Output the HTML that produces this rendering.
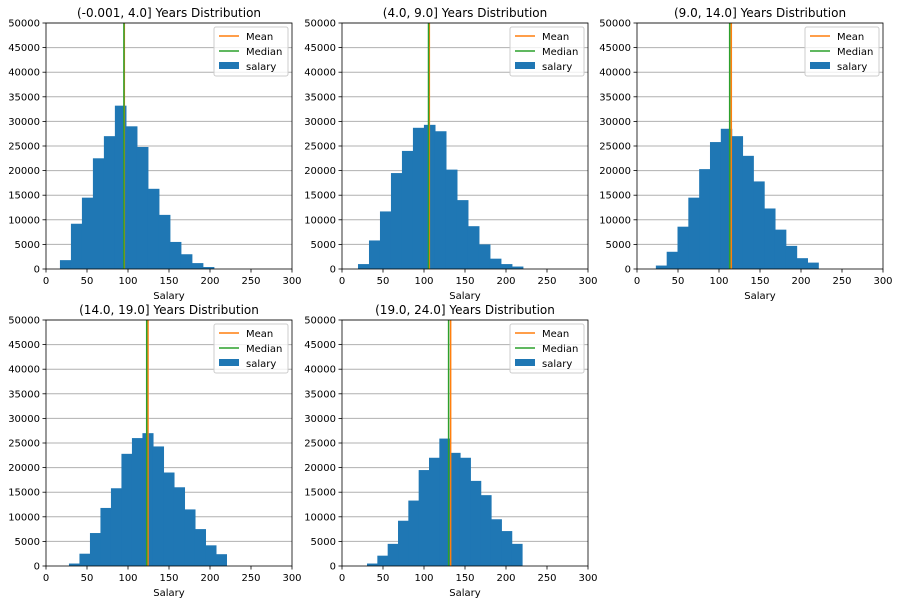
<!DOCTYPE html>
<html><head><meta charset="utf-8"><style>
body{margin:0;background:#fff;}
svg{display:block;font-family:"DejaVu Sans","Liberation Sans",sans-serif;}
</style></head><body>
<svg id="fig" width="899" height="604"></svg>
<script>
const titles = ["(-0.001, 4.0] Years Distribution","(4.0, 9.0] Years Distribution","(9.0, 14.0] Years Distribution","(14.0, 19.0] Years Distribution","(19.0, 24.0] Years Distribution"];
const binStarts = [17, 19.5, 23, 28, 30.5];
const binWidths = [13.4, 13.4, 13.2, 12.8, 12.6];
const counts1 = [1800,9200,14500,22500,27000,33200,29000,24800,16300,11000,5500,3000,1200,400,0];
const counts2 = [1000,5800,11700,19500,24000,28700,29300,28000,20200,14000,8700,5000,2100,1000,500];
const counts3 = [700,3500,8600,14500,20300,25800,28500,27000,23000,17800,12300,8000,4700,2200,1300];
const counts4 = [500,2500,6700,11800,15800,22800,26000,27000,24300,19000,16000,11500,7500,4200,2400];
const counts5 = [500,2100,4500,9200,13300,19500,22000,25900,23000,22000,17300,14400,9500,7100,4500];
const means = [95.5, 106.5, 115, 124.4, 132.5];
const medians = [95, 105.5, 113, 122.8, 130];
const yTicks = [0,5000,10000,15000,20000,25000,30000,35000,40000,45000,50000];
const xTicks = [0,50,100,150,200,250,300];
const allCounts = [counts1,counts2,counts3,counts4,counts5];
const boxes = [[46,23],[342,23],[637,23],[46,320],[342,320]];
const W = 246, H = 246;
const NS = "http://www.w3.org/2000/svg";
const fig = document.getElementById('fig');
function mk(tag, attrs, parent, text){
  const e = document.createElementNS(NS, tag);
  for (const k in attrs) e.setAttribute(k, attrs[k]);
  if (text !== undefined) e.textContent = text;
  parent.appendChild(e); return e;
}
allCounts.forEach((counts, i) => {
  const [x0, y0] = boxes[i];
  const sx = v => x0 + v / 300 * W;
  const sy = v => y0 + H - v / 50000 * H;
  const g = mk('g', {}, fig);
  
  
  yTicks.forEach(t => {
    if (t > 0) {
      const gl = mk('line', {x1:x0, x2:x0+W, y1:sy(t), y2:sy(t), stroke:'#b0b0b0', 'stroke-width':1}, g);
      
      
    }
    mk('line', {x1:x0-3.5, x2:x0, y1:sy(t), y2:sy(t), stroke:'#000', 'stroke-width':0.8}, g);
    const tl = mk('text', {x:x0-6, y:sy(t)+3.5, 'text-anchor':'end', 'font-size':10, fill:'#000'}, g, String(t));
    
    
  });
  counts.forEach((c, j) => {
    const a = binStarts[i] + j * binWidths[i];
    const b = a + binWidths[i];
    if (c <= 0) return;
    const r = mk('rect', {x:sx(a), y:sy(c), width:sx(b)-sx(a)+0.6, height:sy(0)-sy(c), fill:'#1f77b4'}, g);
    
    
  });
  const ml = mk('line', {x1:sx(means[i]), x2:sx(means[i]), y1:y0, y2:y0+H, stroke:'#ff7f0e', 'stroke-width':1.5}, g);
  
  
  const mdl = mk('line', {x1:sx(medians[i]), x2:sx(medians[i]), y1:y0, y2:y0+H, stroke:'#2ca02c', 'stroke-width':1.5}, g);
  
  
  xTicks.forEach(t => {
    mk('line', {x1:sx(t), x2:sx(t), y1:y0+H, y2:y0+H+3.5, stroke:'#000', 'stroke-width':0.8}, g);
    const tl = mk('text', {x:sx(t), y:y0+H+15, 'text-anchor':'middle', 'font-size':10, fill:'#000'}, g, String(t));
    
    
  });
  mk('rect', {x:x0, y:y0, width:W, height:H, fill:'none', stroke:'#000', 'stroke-width':0.8}, g);
  const xt = mk('text', {x:x0+W/2, y:y0+H+30, 'text-anchor':'middle', 'font-size':10}, g, 'Salary');
  
  
  const tt = mk('text', {x:x0+W/2, y:y0-6, 'text-anchor':'middle', 'font-size':12}, g, titles[i]);
  
  
  const lg = mk('g', {}, g);
  
  
  const lx = x0 + W - 78, ly = y0 + 4;
  mk('rect', {x:lx, y:ly, width:74, height:49, rx:2, fill:'#fff', 'fill-opacity':0.8, stroke:'#ccc', 'stroke-width':1}, lg);
  mk('line', {x1:lx+5, x2:lx+25, y1:ly+9, y2:ly+9, stroke:'#ff7f0e', 'stroke-width':1.5}, lg);
  const e1 = mk('text', {x:lx+32, y:ly+13, 'font-size':10}, lg, 'Mean');
  
  
  mk('line', {x1:lx+5, x2:lx+25, y1:ly+24, y2:ly+24, stroke:'#2ca02c', 'stroke-width':1.5}, lg);
  const e2 = mk('text', {x:lx+32, y:ly+28, 'font-size':10}, lg, 'Median');
  
  
  mk('rect', {x:lx+5, y:ly+35, width:20, height:7, fill:'#1f77b4'}, lg);
  const e3 = mk('text', {x:lx+32, y:ly+43, 'font-size':10}, lg, 'salary');
  
  
});
</script>
</body></html>
